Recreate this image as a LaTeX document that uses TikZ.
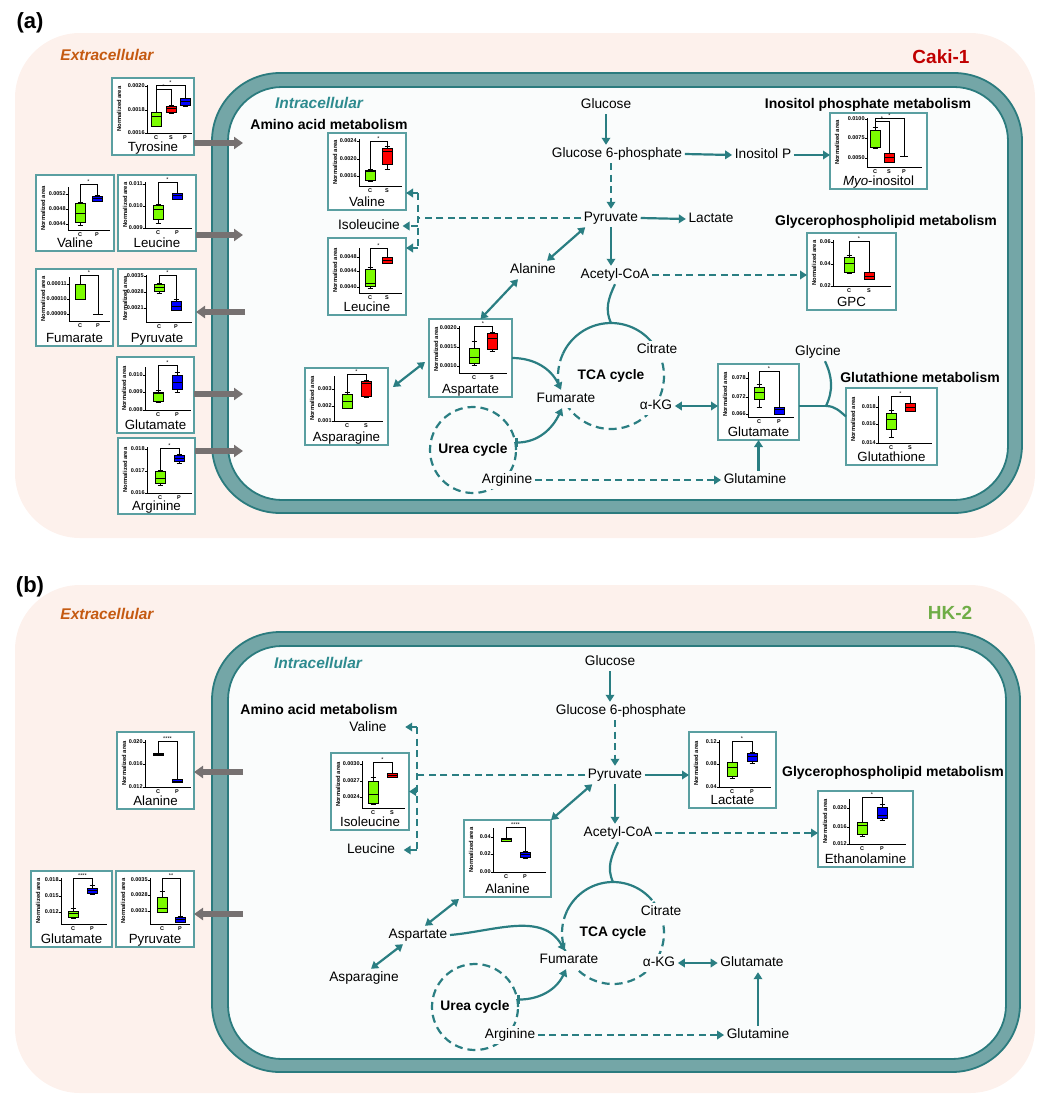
\documentclass[tikz,border=0pt]{standalone}
\usepackage{fontspec}
\setmainfont{Liberation Sans}
\usetikzlibrary{arrows.meta,positioning}

\definecolor{extbg}{HTML}{FDF1EC}
\definecolor{mfill}{HTML}{74A6A7}
\definecolor{mline}{HTML}{2B7B7E}
\definecolor{cellin}{HTML}{FAFCFC}
\definecolor{tealarr}{HTML}{2A7E82}
\definecolor{pborder}{HTML}{5A9FA1}
\definecolor{garr}{HTML}{767171}
\definecolor{extorange}{HTML}{C55A11}
\definecolor{intteal}{HTML}{2E8B8F}
\definecolor{cakired}{HTML}{C00000}
\definecolor{hkgreen}{HTML}{70AD47}
\definecolor{bgreen}{HTML}{7CFC00}
\definecolor{bred}{HTML}{FF0000}
\definecolor{bblue}{HTML}{0000FF}

% one small box-plot panel: name, north west corner, width, height, title, axis x, plot
\newcommand{\plotpanel}[7]{%
  \node[panel, minimum width=#3pt, minimum height=#4pt] (#1) at (#2) {};
  \node[ptitle] (#1t) at ([yshift=3.5pt]#1.south) {#5};
  \begin{scope}[shift={(#1.north west)}]
    \def\ax{#6}
    #7
  \end{scope}}
\newcommand{\paxes}[3]{% top, bottom, right end
  \def\ab{#2}
  \draw[axis] (\ax,#1) -- (\ax,#2) -- (#3,#2);
  \node[nlab] at (7,{(#1+#2)/2}) {Normalized area};}
\newcommand{\ptick}[2]{\draw[axis] (\ax,#1) -- ({\ax-1.8},#1); \node[tlab] at ({\ax-2.2},#1) {#2};}
\newcommand{\pcat}[2]{\node[tlab, anchor=center] at (#1,{\ab+4.2}) {#2};}
\newcommand{\pbox}[7]{% x, hi, q3, median, q1, lo, colour
  \draw[axis] (#1,#2) -- (#1,#6) ({#1-2.5},#2) -- ({#1+2.5},#2) ({#1-2.5},#6) -- ({#1+2.5},#6);
  \filldraw[axis, fill=#7] ({#1-5},#3) rectangle ({#1+5},#5);
  \draw[axis] ({#1-5},#4) -- ({#1+5},#4);}
\newcommand{\pbrk}[6]{\draw[axis] (#1,#2) -- (#1,#5) -- (#3,#5) -- (#3,#4);
  \node[star] at ({(#1+#3)/2},{#5-2.4}) {#6};}

\begin{document}
\begin{tikzpicture}[x=1pt, y=-1pt,
    met/.style={font=\fontsize{13.7}{15}\selectfont, text height=10pt, text depth=3pt, inner sep=2.5pt},
    metw/.style={met, fill=cellin},
    head/.style={font=\fontsize{14}{16}\selectfont\bfseries, inner sep=1pt},
    cyc/.style={circle, inner sep=0pt, outer sep=0pt, font=\fontsize{13.8}{15}\selectfont\bfseries},
    panel/.style={draw=pborder, line width=1.1pt, fill=white, anchor=north west, inner sep=0pt, outer sep=0pt},
    ptitle/.style={font=\fontsize{13.3}{14}\selectfont, anchor=base, inner sep=0pt},
    axis/.style={line width=0.8pt},
    tlab/.style={font=\fontsize{5.5}{5.5}\selectfont\bfseries, anchor=east, inner sep=0pt},
    nlab/.style={font=\fontsize{5.8}{5.8}\selectfont\bfseries, rotate=90, inner sep=0pt},
    star/.style={font=\fontsize{5.5}{5.5}\selectfont, inner sep=0pt},
    tarrow/.style={draw=tealarr, line width=2.2pt, >={Triangle[width=8.5pt,length=7pt]}, ->},
    tboth/.style={tarrow, <->},
    tdash/.style={tarrow, dash pattern=on 7pt off 4.5pt},
    tline/.style={draw=tealarr, line width=2.2pt},
    tcirc/.style={tline, dash pattern=on 8pt off 5pt},
    garrow/.style={draw=garr, line width=6pt, -{Triangle[width=12pt,length=9pt]}}
  ]
  \useasboundingbox (0,0) rectangle (1038,1095);

  % ---------------- (a) Caki-1 ----------------
  \fill[extbg, rounded corners=65pt] (15,33) rectangle (1035,538);
  \draw[draw=mline, fill=mfill, line width=1.8pt, rounded corners=68pt] (212,73) rectangle (1022,513);
  \draw[draw=mline, fill=cellin, line width=1.8pt, rounded corners=54pt] (228,87) rectangle (1008,500);

  \node[font=\fontsize{22}{24}\selectfont\bfseries] (labA) at (30,23) {(a)};
  \node[font=\fontsize{15.5}{17}\selectfont\bfseries\itshape, text=extorange] (extA) at (107,55) {Extracellular};
  \node[font=\fontsize{19}{21}\selectfont\bfseries, text=cakired] (cellA) at (941,57) {Caki-1};
  \node[font=\fontsize{15.5}{17}\selectfont\bfseries\itshape, text=intteal] (intA) at (319,103) {Intracellular};

  % transport arrows
  \coordinate (inTyr) at (243,143);
  \coordinate (inLeu) at (243,235);
  \coordinate (outPyr) at (245,312);
  \coordinate (inGlu) at (243,394);
  \coordinate (inArg) at (243,451);

  \plotpanel{tyrE}{112,78}{82}{77}{Tyrosine}{35}{
    \paxes{7}{55}{80}
    \ptick{8}{0.0020}\ptick{32}{0.0018}\ptick{55}{0.0016}
    \pcat{44}{C}\pcat{59}{S}\pcat{73}{P}
    \pbox{44}{34}{34}{38}{48}{48}{bgreen}
    \pbox{59}{27}{28}{30}{34}{35}{bred}
    \pbox{73}{20}{20}{23}{27}{28}{bblue}
    \pbrk{44}{34}{59}{27}{11}{*}
    \pbrk{44}{34}{73}{20}{7}{*}}
  \plotpanel{valE}{36,175}{78}{76}{Valine}{32}{
    \paxes{12}{55}{74}
    \ptick{19}{0.0052}\ptick{34}{0.0048}\ptick{49}{0.0044}
    \pcat{44}{C}\pcat{61}{P}
    \pbox{44}{27}{28}{38}{47}{50}{bgreen}
    \pbox{61}{20}{21}{23}{26}{26}{bblue}
    \pbrk{44}{27}{61}{20}{9}{*}}
  \plotpanel{leuE}{118,175}{78}{76}{Leucine}{27}{
    \paxes{7}{53}{74}
    \ptick{9}{0.011}\ptick{31}{0.010}\ptick{53}{0.009}
    \pcat{40}{C}\pcat{59}{P}
    \pbox{40}{29}{30}{34}{44}{48}{bgreen}
    \pbox{59}{18}{18}{20}{24}{24}{bblue}
    \pbrk{40}{29}{59}{18}{7}{*}}
  \plotpanel{fumE}{36,269}{77}{77}{Fumarate}{33}{
    \paxes{8}{52}{74}
    \ptick{15}{0.00011}\ptick{30}{0.00010}\ptick{45}{0.00009}
    \pcat{44}{C}\pcat{62}{P}
    \pbox{44}{15}{15}{15}{30}{30}{bgreen}
    \draw[axis] (57,45) -- (67,45);
    \pbrk{44}{15}{62}{45}{6}{*}}
  \plotpanel{pyrE}{118,269}{78}{77}{Pyruvate}{28}{
    \paxes{6}{53}{74}
    \ptick{7}{0.0035}\ptick{23}{0.0028}\ptick{39}{0.0021}
    \pcat{41}{C}\pcat{58}{P}
    \pbox{41}{14}{15}{18}{22}{24}{bgreen}
    \pbox{58}{30}{32}{37}{41}{41}{bblue}
    \pbrk{41}{14}{58}{30}{6}{*}}
  \plotpanel{gluE}{117,357}{77}{76}{Glutamate}{28}{
    \paxes{10}{53}{74}
    \ptick{18}{0.010}\ptick{35}{0.009}\ptick{53}{0.008}
    \pcat{41}{C}\pcat{60}{P}
    \pbox{41}{33}{35}{36}{44}{45}{bgreen}
    \pbox{60}{15}{18}{25}{32}{35}{bblue}
    \pbrk{41}{33}{60}{15}{8}{*}}
  \plotpanel{argE}{118,438}{77}{76}{Arginine}{29}{
    \paxes{9}{55}{74}
    \ptick{11}{0.018}\ptick{33}{0.017}\ptick{55}{0.016}
    \pcat{42}{C}\pcat{61}{P}
    \pbox{42}{32}{33}{40}{45}{47}{bgreen}
    \pbox{61}{16}{17}{20}{23}{25}{bblue}
    \pbrk{42}{32}{61}{16}{10}{*}}

  \draw[garrow] (tyrE.east |- inTyr) -- (inTyr);
  \draw[garrow] (leuE.east |- inLeu) -- (inLeu);
  \draw[garrow] (outPyr) -- (pyrE.east |- outPyr);
  \draw[garrow] (gluE.east |- inGlu) -- (inGlu);
  \draw[garrow] (argE.east |- inArg) -- (inArg);

  % intracellular panels
  \node[head] (aaHeadA) at (329,124) {Amino acid metabolism};
  \node[head] (inoHead) at (868,105) {Inositol phosphate metabolism};
  \node[head] (gpHeadA) at (886,222) {Glycerophospholipid metabolism};
  \node[head] (gsHead) at (920,377) {Glutathione metabolism};

  \plotpanel{valI}{328,133}{78}{77}{Valine}{31}{
    \paxes{6}{53}{74}
    \ptick{8}{0.0024}\ptick{26}{0.0020}\ptick{43}{0.0016}
    \pcat{42}{C}\pcat{59}{S}
    \pbox{42}{36}{37}{38}{47}{48}{bgreen}
    \pbox{59}{13}{15}{18}{31}{36}{bred}
    \pbrk{42}{36}{59}{13}{8}{*}}
  \plotpanel{leuI}{328,238}{78}{77}{Leucine}{31}{
    \paxes{10}{55}{74}
    \ptick{19}{0.0048}\ptick{33}{0.0044}\ptick{49}{0.0040}
    \pcat{42}{C}\pcat{59}{S}
    \pbox{42}{29}{31}{45}{48}{50}{bgreen}
    \pbox{59}{19}{19}{22}{25}{25}{bred}
    \pbrk{42}{29}{59}{19}{10}{*}}
  \plotpanel{myoI}{830,113}{97}{76}{\textit{Myo}-inositol}{37}{
    \paxes{5}{54}{92}
    \ptick{6}{0.0100}\ptick{25}{0.0075}\ptick{45}{0.0050}
    \pcat{45}{C}\pcat{59}{S}\pcat{74}{P}
    \pbox{45}{14}{17}{17}{34}{35}{bgreen}
    \pbox{59}{40}{40}{44}{49}{49}{bred}
    \draw[axis] (70,43) -- (78,43);
    \pbrk{45}{14}{59}{40}{8}{*}
    \pbrk{45}{14}{74}{43}{5}{*}}
  \plotpanel{gpcI}{807,233}{89}{77}{GPC}{26}{
    \paxes{7}{53}{84}
    \ptick{9}{0.06}\ptick{31}{0.04}\ptick{53}{0.02}
    \pcat{42}{C}\pcat{62}{S}
    \pbox{42}{22}{24}{30}{39}{40}{bgreen}
    \pbox{62}{39}{39}{43}{46}{46}{bred}
    \pbrk{42}{22}{62}{39}{8}{*}}
  \plotpanel{aspI}{429,319}{83}{78}{Aspartate}{30}{
    \paxes{7}{54}{78}
    \ptick{9}{0.0020}\ptick{28}{0.0015}\ptick{47}{0.0010}
    \pcat{45}{C}\pcat{63}{S}
    \pbox{45}{22}{29}{38}{44}{46}{bgreen}
    \pbox{63}{13}{14}{19}{30}{32}{bred}
    \pbrk{45}{22}{63}{13}{7}{*}}
  \plotpanel{asnI}{305,368}{83}{77}{Asparagine}{29}{
    \paxes{8}{53}{78}
    \ptick{21}{0.003}\ptick{38}{0.002}\ptick{53}{0.001}
    \pcat{42}{C}\pcat{61}{S}
    \pbox{42}{24}{26}{33}{40}{40}{bgreen}
    \pbox{61}{12}{13}{15}{28}{29}{bred}
    \pbrk{42}{24}{61}{12}{6}{*}}
  \plotpanel{gluI}{718,364}{81}{76}{Glutamate}{30}{
    \paxes{8}{53}{76}
    \ptick{14}{0.078}\ptick{33}{0.072}\ptick{50}{0.066}
    \pcat{41}{C}\pcat{61}{P}
    \pbox{41}{20}{23}{28}{35}{43}{bgreen}
    \pbox{61}{43}{43}{45}{50}{50}{bblue}
    \pbrk{41}{20}{61}{43}{7}{*}}
  \plotpanel{gshI}{846,388}{91}{77}{Glutathione}{32}{
    \paxes{8}{55}{86}
    \ptick{19}{0.018}\ptick{36}{0.016}\ptick{55}{0.014}
    \pcat{45}{C}\pcat{64}{S}
    \pbox{45}{22}{25}{31}{41}{49}{bgreen}
    \pbox{64}{15}{15}{19}{23}{23}{bred}
    \pbrk{45}{22}{64}{15}{8}{*}}

  % pathway (a)
  \node[cyc, minimum size=106pt] (tcaA) at (611,376) {TCA cycle};
  \draw[tline] (tcaA.40) arc[start angle=-40, end angle=-155, radius=53];
  \draw[tcirc] (tcaA.155) arc[start angle=-155, end angle=-400, radius=53];
  \node[cyc, minimum size=86pt, draw=tealarr, line width=2.2pt, dash pattern=on 8pt off 5pt] (ureaA) at (473,450) {Urea cycle};

  \node[met] (glcA) at (606,105) {Glucose};
  \node[met] (g6pA) at (617,154) {Glucose 6-phosphate};
  \node[met] (inpA) at (763,155) {Inositol P};
  \node[met] (pyrA) at (611,218) {Pyruvate};
  \node[met] (lacA) at (711,219) {Lactate};
  \node[met] (alaA) at (533,270) {Alanine};
  \node[met] (acoaA) at (615,275) {Acetyl-CoA};
  \node[met] (ileA) at (369,226) {Isoleucine};
  \node[metw] (citA) at (657,350) {Citrate};
  \node[metw] (fumA) at (566,399) {Fumarate};
  \node[metw] (akgA) at (656,406) {α-KG};
  \node[met] (glyA) at (818,352) {Glycine};
  \node[met] (glnA) at (755,480) {Glutamine};
  \node[metw] (argA) at (507,480) {Arginine};

  \coordinate (vtA) at (418,193);
  \coordinate (vbA) at (418,248);
  \coordinate (jnA) at (826,406);

  \draw[tarrow] (glcA.south) -- (glcA.south |- g6pA.north);
  \draw[tarrow] (g6pA.east) -- (inpA.west);
  \draw[tarrow] (inpA.east) -- (inpA.east -| myoI.west);
  \draw[tdash] (pyrA.north |- g6pA.south) -- (pyrA.north);
  \draw[tarrow] (pyrA.east) -- (lacA.west);
  \draw[tarrow] (pyrA.south) -- (pyrA.south |- acoaA.north);
  \draw[tdash] (acoaA.east) -- (acoaA.east -| gpcI.west);
  \draw[tboth] ([xshift=14pt]alaA.north) -- ([xshift=4pt]pyrA.south west);
  \draw[tboth] ([xshift=-15pt]alaA.south) -- ([xshift=10pt]aspI.north);
  \draw[tboth] ([xshift=5pt,yshift=-19pt]asnI.north east) -- ([xshift=-4pt,yshift=-4pt]aspI.west);
  \draw[tarrow] (aspI.east) to[out=0, in=115] ([xshift=-5pt]fumA.north);
  \draw[tarrow, {Bar[width=9pt]}->] (ureaA.10) to[out=0, in=-115] ([xshift=-4pt]fumA.south);
  \draw[tline] (acoaA.south) to[out=-115, in=115] (tcaA.north);
  \draw[tboth] (akgA.east) -- (akgA.east -| gluI.west);
  \draw[tarrow] (gluI.south |- glnA.north) -- (gluI.south);
  \draw[tdash] (argA.east) -- (glnA.west);
  \draw[tline] (gluI.east |- jnA) -- (jnA);
  \draw[tline] ([xshift=7pt]glyA.south) to[out=-65, in=65] (jnA);
  \draw[tline] (jnA) to[out=0, in=140] ([yshift=10pt]gshI.west);

  \draw[tdash, -] (pyrA.west) -- (pyrA.west -| vtA);
  \draw[tdash, -] (vtA) -- (vbA);
  \draw[tdash] (vtA) -- (valI.east |- vtA);
  \draw[tdash] (ileA.east -| vtA) -- (ileA.east);
  \draw[tdash] (vbA) -- (leuI.east |- vbA);

  % ---------------- (b) HK-2 ----------------
  \fill[extbg, rounded corners=65pt] (15,585) rectangle (1035,1093);
  \draw[draw=mline, fill=mfill, line width=1.8pt, rounded corners=68pt] (212,632) rectangle (1020,1072);
  \draw[draw=mline, fill=cellin, line width=1.8pt, rounded corners=54pt] (228,646) rectangle (1006,1059);

  \node[font=\fontsize{22}{24}\selectfont\bfseries] (labB) at (30,587) {(b)};
  \node[font=\fontsize{15.5}{17}\selectfont\bfseries\itshape, text=extorange] (extB) at (107,614) {Extracellular};
  \node[font=\fontsize{19}{21}\selectfont\bfseries, text=hkgreen] (cellB) at (950,613) {HK-2};
  \node[font=\fontsize{15.5}{17}\selectfont\bfseries\itshape, text=intteal] (intB) at (318,663) {Intracellular};

  \coordinate (outAla) at (243,772);
  \coordinate (outPyrB) at (243,914);

  \plotpanel{alaE}{117,732}{77}{77}{Alanine}{28}{
    \paxes{8}{55}{74}
    \ptick{10}{0.020}\ptick{32}{0.016}\ptick{55}{0.012}
    \pcat{41}{C}\pcat{60}{P}
    \pbox{41}{21}{21}{22}{23}{23}{bgreen}
    \pbox{60}{47}{47}{49}{50}{50}{bblue}
    \pbrk{41}{21}{60}{47}{9}{****}}
  \plotpanel{gluEb}{31,871}{81}{76}{Glutamate}{30}{
    \paxes{7}{53}{76}
    \ptick{9}{0.018}\ptick{25}{0.015}\ptick{41}{0.012}
    \pcat{42}{C}\pcat{61}{P}
    \pbox{42}{37}{40}{42}{46}{47}{bgreen}
    \pbox{61}{14}{17}{19}{22}{23}{bblue}
    \pbrk{42}{37}{61}{14}{7}{****}}
  \plotpanel{pyrEb}{116,871}{78}{76}{Pyruvate}{34}{
    \paxes{7}{53}{74}
    \ptick{9}{0.0035}\ptick{24}{0.0028}\ptick{40}{0.0021}
    \pcat{46}{C}\pcat{64}{P}
    \pbox{46}{20}{26}{37}{41}{41}{bgreen}
    \pbox{64}{45}{46}{48}{51}{51}{bblue}
    \pbrk{46}{20}{64}{45}{7}{**}}

  \draw[garrow] (outAla) -- (alaE.east |- outAla);
  \draw[garrow] (outPyrB) -- (pyrEb.east |- outPyrB);

  \node[head] (aaHeadB) at (319,709) {Amino acid metabolism};
  \node[head] (gpHeadB) at (893,773) {Glycerophospholipid metabolism};

  \plotpanel{isoI}{331,753}{78}{77}{Isoleucine}{31}{
    \paxes{8}{55}{74}
    \ptick{11}{0.0030}\ptick{28}{0.0027}\ptick{44}{0.0024}
    \pcat{42}{C}\pcat{61}{S}
    \pbox{42}{24}{28}{41}{50}{51}{bgreen}
    \pbox{61}{20}{20}{22}{24}{24}{bred}
    \pbrk{42}{24}{61}{20}{9}{*}}
  \plotpanel{lacI}{689,732}{87}{76}{Lactate}{30}{
    \paxes{8}{55}{82}
    \ptick{10}{0.12}\ptick{32}{0.08}\ptick{55}{0.04}
    \pcat{43}{C}\pcat{63}{P}
    \pbox{43}{30}{30}{35}{44}{46}{bgreen}
    \pbox{63}{20}{21}{24}{29}{31}{bblue}
    \pbrk{43}{30}{63}{20}{9}{*}}
  \plotpanel{ethI}{818,791}{95}{76}{Ethanolamine}{31}{
    \paxes{8}{53}{88}
    \ptick{17}{0.020}\ptick{36}{0.016}\ptick{53}{0.012}
    \pcat{44}{C}\pcat{64}{P}
    \pbox{44}{31}{31}{34}{43}{45}{bgreen}
    \pbox{64}{13}{16}{24}{27}{29}{bblue}
    \pbrk{44}{31}{64}{13}{6}{*}}
  \plotpanel{alaI}{464,820}{87}{77}{Alanine}{29}{
    \paxes{8}{52}{82}
    \ptick{17}{0.04}\ptick{34}{0.02}\ptick{52}{0.00}
    \pcat{42}{C}\pcat{61}{P}
    \pbox{42}{18}{18}{19.5}{21}{21}{bgreen}
    \pbox{61}{31}{32}{34.5}{37}{38}{bblue}
    \pbrk{42}{18}{61}{31}{7}{****}}

  % pathway (b)
  \node[cyc, minimum size=102pt] (tcaB) at (613,933) {TCA cycle};
  \draw[tline] (tcaB.40) arc[start angle=-40, end angle=-155, radius=51];
  \draw[tcirc] (tcaB.155) arc[start angle=-155, end angle=-400, radius=51];
  \node[cyc, minimum size=86pt, draw=tealarr, line width=2.2pt, dash pattern=on 8pt off 5pt] (ureaB) at (475,1007) {Urea cycle};

  \node[met] (glcB) at (610,662) {Glucose};
  \node[met] (g6pB) at (621,711) {Glucose 6-phosphate};
  \node[met] (pyrB) at (615,775) {Pyruvate};
  \node[met] (acoaB) at (618,833) {Acetyl-CoA};
  \node[met] (valB) at (368,728) {Valine};
  \node[met] (leuB) at (371,850) {Leucine};
  \node[met] (aspB) at (418,935) {Aspartate};
  \node[met] (asnB) at (364,978) {Asparagine};
  \node[metw] (citB) at (661,912) {Citrate};
  \node[metw] (fumB) at (569,960) {Fumarate};
  \node[metw] (akgB) at (659,963) {α-KG};
  \node[met] (gluB) at (752,963) {Glutamate};
  \node[met] (glnB) at (758,1035) {Glutamine};
  \node[metw] (argB) at (510,1035) {Arginine};

  \coordinate (vtB) at (417,727);
  \coordinate (vbB) at (417,850);

  \draw[tarrow] (glcB.south) -- (glcB.south |- g6pB.north);
  \draw[tdash] (pyrB.north |- g6pB.south) -- (pyrB.north);
  \draw[tarrow] (pyrB.east) -- (pyrB.east -| lacI.west);
  \draw[tarrow] (pyrB.south) -- (pyrB.south |- acoaB.north);
  \draw[tdash] (acoaB.east) -- (acoaB.east -| ethI.west);
  \draw[tboth] ([xshift=7pt]pyrB.south west) -- (alaI.north east);
  \draw[tboth] ([xshift=7pt]aspB.north) -- ([xshift=-5pt,yshift=-2pt]alaI.south west);
  \draw[tboth] ([xshift=7pt]asnB.north) -- ([xshift=-15pt]aspB.south);
  \draw[tarrow] (aspB.east) to[out=5, in=120] ([xshift=-4pt]fumB.north);
  \draw[tarrow, {Bar[width=9pt]}->] (ureaB.10) to[out=0, in=-115] ([xshift=-3pt]fumB.south);
  \draw[tline] (acoaB.south) to[out=-115, in=115] (tcaB.north);
  \draw[tboth] (akgB.east) -- (gluB.west);
  \draw[tarrow] (glnB.north) -- (glnB.north |- gluB.south);
  \draw[tdash] (argB.east) -- (glnB.west);

  \draw[tdash, -] (pyrB.west) -- (pyrB.west -| vtB);
  \draw[tdash, -] (vtB) -- (vbB);
  \draw[tdash] (vtB) -- ([xshift=16pt]valB.east |- vtB);
  \draw[tdash] (isoI.east -| vtB) -- (isoI.east);
  \draw[tdash] (vbB) -- ([xshift=6pt]leuB.east |- vbB);
\end{tikzpicture}
\end{document}
